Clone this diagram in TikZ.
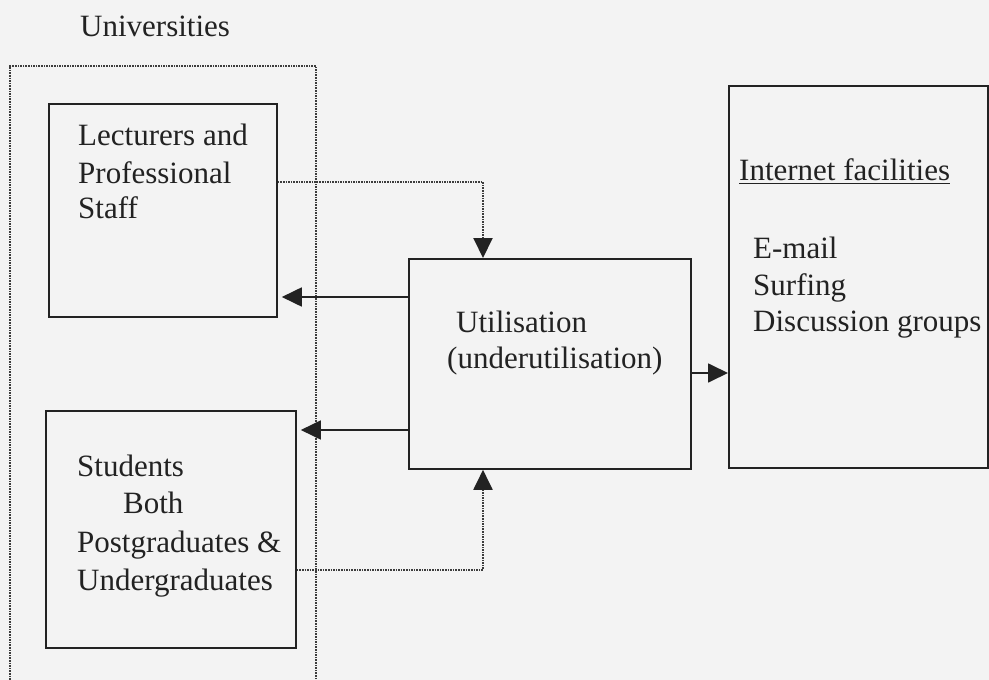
\documentclass[tikz,border=0pt]{standalone}
\usepackage{fontspec}
\setmainfont{Liberation Serif}
\usetikzlibrary{arrows.meta}
\definecolor{ink}{HTML}{222222}
\definecolor{paper}{HTML}{F3F3F3}
\definecolor{dotink}{HTML}{3C3C3C}
\tikzset{
  box/.style={draw=ink, line width=1.8pt, rectangle, inner sep=0pt, anchor=north west},
  txt/.style={inner sep=0pt, anchor=base west, text=ink, font=\fontsize{31}{37}\selectfont},
  dotline/.style={draw=dotink, line width=2pt, dash pattern=on 1.6pt off 1pt},
  solidline/.style={draw=ink, line width=1.8pt},
  tip/.style={-{Triangle[length=20pt,width=19pt,color=ink,fill=ink]}}
}
\begin{document}
\begin{tikzpicture}[x=1pt,y=-1pt]
\useasboundingbox (0,0) rectangle (989,680);
\fill[paper] (0,0) rectangle (989,680);
\clip (0,0) rectangle (989,680);

% title
\node[txt] (title) at (80,36) {Universities};

% outer dotted frame
\node[dotline, rectangle, inner sep=0pt, anchor=north west, minimum width=306pt, minimum height=640pt] (outer) at (9,65) {};

% boxes
\node[box, minimum width=228pt, minimum height=213pt] (lect) at (48,103) {};
\node[box, minimum width=250pt, minimum height=237pt] (stud) at (45,410) {};
\node[box, minimum width=282pt, minimum height=210pt] (util) at (408,258) {};
\node[box, minimum width=259pt, minimum height=382pt] (inet) at (728,85) {};

% texts
\node[txt] (l1) at (78,145) {Lecturers and};
\node[txt] (l2) at (78,183) {Professional};
\node[txt] (l3) at (78,218) {Staff};

\node[txt] (s1) at (77,476) {Students};
\node[txt] (s2) at (123,513) {Both};
\node[txt] (s3) at (77,552) {Postgraduates \&};
\node[txt] (s4) at (77,590) {Undergraduates};

\node[txt] (u1) at (456,332) {Utilisation};
\node[txt] (u2) at (447,368) {(underutilisation)};

\node[txt] (i0) at (739,180) {Internet facilities};
\draw[ink, line width=1.3pt] ([yshift=-3.5pt]i0.base west) -- ([yshift=-3.5pt]i0.base east);
\node[txt] (i1) at (753,258) {E-mail};
\node[txt] (i2) at (753,295) {Surfing};
\node[txt] (i3) at (753,331) {Discussion groups};

% connectors
\draw[dotline, tip] (lect.east |- 0,182) -| (util.north -| 483,0);
\draw[dotline, tip] (stud.east |- 0,570) -| (util.south -| 483,0);
\draw[solidline, tip, shorten >=4pt] (util.west |- 0,297) -- (lect.east |- 0,297);
\draw[solidline, tip, shorten >=4pt] (util.west |- 0,430) -- (stud.east |- 0,430);
\draw[solidline, tip] (util.east |- 0,373) -- (inet.west |- 0,373);
\end{tikzpicture}
\end{document}
